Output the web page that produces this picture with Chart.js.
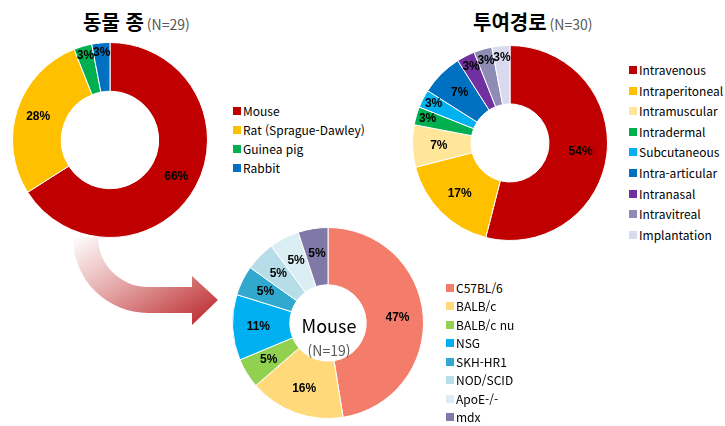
<!DOCTYPE html>
<html lang="ko">
<head>
<meta charset="UTF-8">
<title>동물 종 / 투여경로</title>
<script src="https://cdn.jsdelivr.net/npm/chart.js@4"></script>
<style>
  body { margin: 0; background: #fff; }
  #wrap { position: relative; width: 725px; height: 426px; overflow: hidden; font-family: "Noto Sans CJK KR", "Noto Sans", sans-serif; }
  canvas, .abs { position: absolute; }
  .title { font-weight: bold; font-size: 20px; color: #000; white-space: nowrap; line-height: 1; }
  .title span { font-weight: normal; font-size: 14px; color: #595959; margin-left: 3px; }
  .lg { position: absolute; white-space: nowrap; color: #000; line-height: 1; }
  .lg i { position: absolute; width: 8px; height: 8px; }
</style>
</head>
<body>
<div id="wrap">
  <svg class="abs" style="left:0;top:0" width="725" height="426">
    <defs>
      <linearGradient id="ag" x1="0" y1="0" x2="1" y2="1">
        <stop offset="0" stop-color="#ffffff"/>
        <stop offset="0.45" stop-color="#e3a3a3"/>
        <stop offset="1" stop-color="#b82025"/>
      </linearGradient>
    </defs>
    <path d="M73,237 L98,237 A50,50 0 0 0 148,287 L192,287 L192,276 L218,300 L192,325 L192,313 L148,313 A75,75 0 0 1 73,238 Z" fill="url(#ag)"/>
  </svg>

  <div class="abs title" style="left:83px;top:12px">동물 종<span>(N=29)</span></div>
  <div class="abs title" style="left:473px;top:12px">투여경로<span>(N=30)</span></div>

  <canvas id="c1" width="196" height="196" style="left:12px;top:42px"></canvas>
  <canvas id="c2" width="196" height="196" style="left:412px;top:45px"></canvas>
  <canvas id="c3" width="192" height="192" style="left:232px;top:227px"></canvas>

  <div class="abs" style="left:279px;top:316px;width:100px;text-align:center;font-size:18px;color:#000;line-height:1">Mouse</div>
  <div class="abs" style="left:279px;top:343px;width:100px;text-align:center;font-size:14px;color:#595959;line-height:1">(N=19)</div>

  <div id="lg1"></div>
  <div id="lg2"></div>
  <div id="lg3"></div>
</div>

<script>
// 동물 종 (N=29), %
const speciesLabels = ['Mouse', 'Rat (Sprague-Dawley)', 'Guinea pig', 'Rabbit']
const speciesValues = [66, 28, 3, 3]
const speciesColors = ['#c00000', '#ffc000', '#00b050', '#0070c0']

// 투여경로 (N=30), %
const routeLabels = ['Intravenous', 'Intraperitoneal', 'Intramuscular', 'Intradermal', 'Subcutaneous',
  'Intra-articular', 'Intranasal', 'Intravitreal', 'Implantation']
const routeValues = [54, 17, 7, 3, 3, 7, 3, 3, 3]
const routeColors = ['#c00000', '#ffc000', '#ffe699', '#00b050', '#00b0f0',
  '#0070c0', '#7030a0', '#8e8cb4', '#d9d9f0']

// Mouse strain (N=19), %
const strainLabels = ['C57BL/6', 'BALB/c', 'BALB/c nu', 'NSG', 'SKH-HR1', 'NOD/SCID', 'ApoE-/-', 'mdx']
const strainValues = [47, 16, 5, 11, 5, 5, 5, 5]
const strainColors = ['#f47c6a', '#ffd97a', '#92d050', '#00b0f0', '#31a9ce', '#b7dee8', '#daeef3', '#8079a8']

// percent labels inside the ring
const pctLabels = {
  id: 'pctLabels',
  afterDatasetsDraw(chart) {
    const ctx = chart.ctx
    const meta = chart.getDatasetMeta(0)
    const values = chart.data.datasets[0].data
    ctx.save()
    ctx.font = 'bold 12px "Liberation Sans", Arial, sans-serif'
    ctx.fillStyle = '#000'
    ctx.textAlign = 'center'
    ctx.textBaseline = 'middle'
    meta.data.forEach((arc, i) => {
      const p = arc.getProps(['x', 'y', 'startAngle', 'endAngle', 'innerRadius', 'outerRadius'], true)
      const mid = (p.startAngle + p.endAngle) / 2
      const f = values[i] < 5 ? 0.8 : 0.55
      const r = p.innerRadius + (p.outerRadius - p.innerRadius) * f
      ctx.fillText(values[i] + '%', p.x + Math.cos(mid) * r, p.y + Math.sin(mid) * r)
    })
    ctx.restore()
  }
}

function donut(id, labels, values, colors, cutout) {
  return new Chart(document.getElementById(id), {
    type: 'doughnut',
    data: {
      labels: labels,
      datasets: [{ data: values, backgroundColor: colors, borderColor: '#fff', borderWidth: 1 }]
    },
    options: {
      responsive: false,
      animation: false,
      cutout: cutout,
      layout: { padding: 0 },
      plugins: { legend: { display: false }, tooltip: { enabled: false } }
    },
    plugins: [pctLabels]
  })
}

donut('c1', speciesLabels, speciesValues, speciesColors, '50%')
donut('c2', routeLabels, routeValues, routeColors, '40%')
donut('c3', strainLabels, strainValues, strainColors, '40%')

function legend(id, labels, colors, x, y0, step, size) {
  const el = document.getElementById(id)
  labels.forEach((lab, i) => {
    const row = document.createElement('div')
    row.className = 'lg'
    row.style.left = x + 'px'
    row.style.top = (y0 + i * step - size / 2) + 'px'
    row.style.fontSize = size + 'px'
    row.innerHTML = '<i style="left:0;top:' + (size / 2 - 4) + 'px;background:' + colors[i] + '"></i>'
    const t = document.createElement('span')
    t.style.marginLeft = '10px'
    t.textContent = lab
    row.appendChild(t)
    el.appendChild(row)
  })
}

legend('lg1', speciesLabels, speciesColors, 233, 111, 19, 12)
legend('lg2', routeLabels, routeColors, 629, 70, 20.6, 12)
legend('lg3', strainLabels, strainColors, 446, 288, 18.45, 12)
</script>
</body>
</html>
